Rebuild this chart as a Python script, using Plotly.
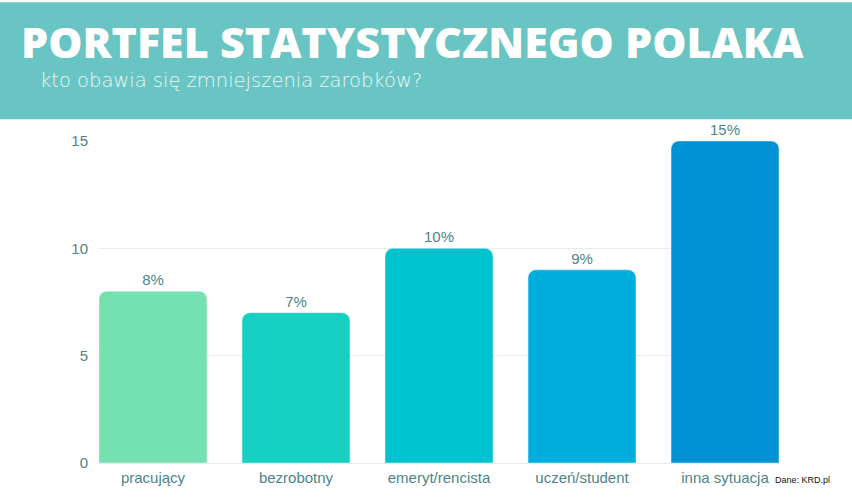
import plotly.graph_objects as go

categories = ["pracujący", "bezrobotny", "emeryt/rencista", "uczeń/student", "inna sytuacja"]
values = [8, 7, 10, 9, 15]
labels = ["8%", "7%", "10%", "9%", "15%"]
colors = ["#75E0B0", "#16D0C2", "#00C3D0", "#00AEDD", "#0092D4"]

W, H = 852, 498
ml, mr, mt, mb = 99, 73, 141, 30
pw, ph = W - ml - mr, H - mt - mb

def px_x(x):
    return (x - ml) / pw

def px_y(y):
    return (H - mb - y) / ph

fig = go.Figure(go.Bar(
    x=categories, y=values, text=labels, textposition="outside",
    marker=dict(color=colors, cornerradius=8),
    textfont=dict(family="Liberation Sans", size=15, color="#4E8586"),
    cliponaxis=False, width=0.755,
))

# header band
fig.add_shape(type="rect", xref="paper", yref="paper",
              x0=px_x(0), x1=px_x(W), y0=px_y(119), y1=px_y(0),
              fillcolor="#69C4C4", line_width=0, layer="below")

fig.add_annotation(text="PORTFEL STATYSTYCZNEGO POLAKA", xref="paper", yref="paper",
                   x=px_x(19), y=px_y(40), xanchor="left", yanchor="middle", showarrow=False,
                   font=dict(family="Open Sans", size=43, color="white", weight=800))
fig.add_annotation(text="kto obawia się zmniejszenia zarobków?", xref="paper", yref="paper",
                   x=px_x(38), y=px_y(80), xanchor="left", yanchor="middle", showarrow=False,
                   font=dict(family="DejaVu Sans", size=19.5, color="#EAF6F6", weight=200))
fig.add_annotation(text="Dane: KRD.pl", xref="paper", yref="paper",
                   x=px_x(773), y=px_y(485), xanchor="left", yanchor="middle", showarrow=False,
                   font=dict(family="Liberation Sans", size=9, color="#111111"))

fig.update_layout(
    width=W, height=H,
    margin=dict(l=ml, r=mr, t=mt, b=mb),
    paper_bgcolor="white", plot_bgcolor="white",
    showlegend=False,
    xaxis=dict(range=[-0.3775, 4.3775], showgrid=False, zeroline=False, showline=False,
               tickfont=dict(family="Liberation Sans", size=15, color="#4E8586"),
               ticklabelstandoff=4),
    yaxis=dict(range=[0, 15], tickvals=[0, 5, 10, 15], gridcolor="#E4ECEC", gridwidth=1,
               zeroline=True, zerolinecolor="#E4ECEC", zerolinewidth=1,
               tickfont=dict(family="Liberation Sans", size=15, color="#4E8586"),
               ticklabelstandoff=10),
)

fig.write_html("out.html", config={"displayModeBar": False},
               post_script="document.body.style.margin='0';")
